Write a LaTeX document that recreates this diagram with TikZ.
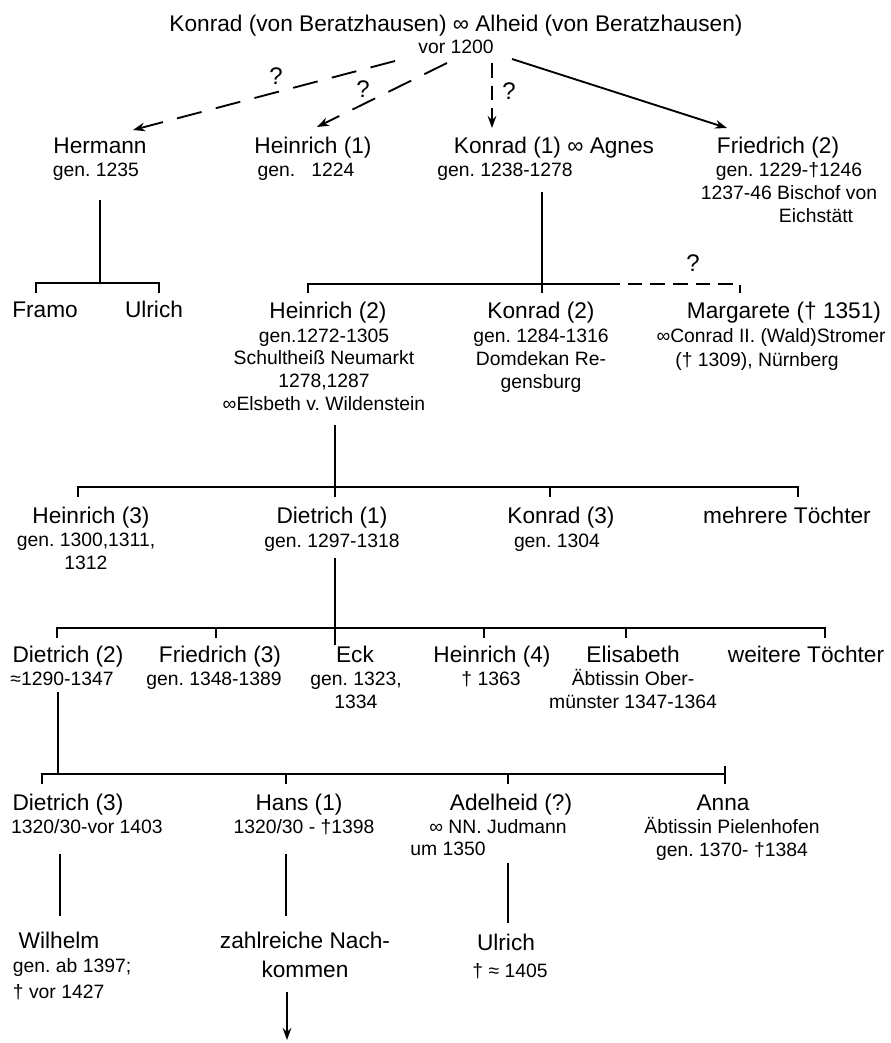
\documentclass[tikz,border=0pt]{standalone}
\usepackage{fontspec}
\setmainfont{Liberation Sans}
\usetikzlibrary{arrows.meta}
\newcommand\namefont{\fontsize{17}{21.5}\selectfont}
\newcommand\infofont{\fontsize{14.5}{17}\selectfont}
\newcommand\qfont{\fontsize{18}{20}\selectfont}
\frenchspacing

\begin{document}
\begin{tikzpicture}[x=0.75pt,y=-0.75pt,line width=1.4pt,
  every node/.style={inner sep=0pt},
  pname/.style={font=\namefont,anchor=base,align=center},
  pinfo/.style={font=\infofont,anchor=base,align=center},
  qmark/.style={font=\qfont},
  doubtful/.style={dash pattern=on 19pt off 11pt},
  doubtbar/.style={dash pattern=on 11pt off 6pt},
  tip/.style={-{Stealth[length=9pt,width=6.5pt]}}]
	%%%%% START %%%%%
	\useasboundingbox (0,0) rectangle (891,1043);

	% parents
	\node[pname] (top) at (456,31) {Konrad (von Beratzhausen) ∞ Alheid (von Beratzhausen)};
	\node[pinfo] (topI) at (456,53) {vor 1200};

	% first generation (multi-line texts sit on their last line)
	\node[pname] (hermann) at (100,153) {Hermann};
	\node[pinfo] (hermannI) at (96,176) {gen. 1235};
	\node[pname] (heinrichA) at (313,153) {Heinrich (1)};
	\node[pinfo] (heinrichAI) at (306,176) {gen.\ \ \ 1224};
	\node[pname] (konradA) at (554,153) {Konrad (1) ∞ Agnes};
	\node[pinfo] (konradAI) at (505,176) {gen. 1238-1278};
	\node[pname] (friedrichA) at (778,153) {Friedrich (2)};
	\node[pinfo] (friedrichAI) at (789,199) {gen. 1229-†1246\\1237-46 Bischof von};
	\node[pinfo] (eichstaett) at (816,222) {Eichstätt};

	\coordinate (fromA) at (395,61);  \coordinate (toHermann) at (133,130);
	\coordinate (fromB) at (447,63);  \coordinate (toHeinrichA) at (317,127);
	\coordinate (fromC) at (492,63);  \coordinate (toKonradA) at (492,128);
	\coordinate (fromD) at (512,59);  \coordinate (toFriedrichA) at (727,128);
	\draw[tip,doubtful] (fromA) -- (toHermann);
	\draw[tip,doubtful] (fromB) -- (toHeinrichA);
	\draw[tip,doubtbar] (fromC) -- (toKonradA);
	\draw[tip] (fromD) -- (toFriedrichA);
	\node[qmark] (q1) at (276,76) {?};
	\node[qmark] (q2) at (363,89) {?};
	\node[qmark] (q3) at (509,91) {?};

	% children of Hermann
	\draw (100,200) -- (100,283);
	\draw (36,293) -- (36,283) -- (159,283) -- (159,293);
	\node[pname] (framo) at (45,317) {Framo};
	\node[pname] (ulrichA) at (154,317) {Ulrich};

	% children of Konrad (1)
	\draw (542,192) -- (542,293);
	\draw (308,293) -- (308,284) -- (605,284);
	\draw[doubtbar] (605,284) -- (740,284) -- (740,293);
	\node[qmark] (q4) at (693,263) {?};
	\node[pname] (heinrichB) at (328,318) {Heinrich (2)};
	\node[pinfo] (heinrichBI) at (324,410) {gen.1272-1305\\Schultheiß Neumarkt\\1278,1287\\∞Elsbeth v. Wildenstein};
	\node[pname] (konradB) at (541,318) {Konrad (2)};
	\node[pinfo] (konradBI) at (541,388) {gen. 1284-1316\\Domdekan Re-\\gensburg};
	\node[pname] (margarete) at (784,318) {Margarete († 1351)};
	\node[pinfo] (margareteI) at (771,342) {∞Conrad II. (Wald)Stromer};
	\node[pinfo] (margareteJ) at (757,366) {(† 1309), Nürnberg};

	% children of Heinrich (2)
	\draw (335,425) -- (335,497);
	\draw (78,497) -- (78,487) -- (798,487) -- (798,497);
	\draw (550,487) -- (550,497);
	\node[pname] (heinrichC) at (91,523) {Heinrich (3)};
	\node[pinfo] (heinrichCI) at (86,569) {gen. 1300,1311,\\1312};
	\node[pname] (dietrichA) at (332,523) {Dietrich (1)};
	\node[pinfo] (dietrichAI) at (332,547) {gen. 1297-1318};
	\node[pname] (konradC) at (561,523) {Konrad (3)};
	\node[pinfo] (konradCI) at (557,547) {gen. 1304};
	\node[pname] (toechterA) at (787,523) {mehrere Töchter};

	% children of Dietrich (1)
	\draw (335,558) -- (335,645);
	\draw (57,638) -- (57,628) -- (825,628) -- (825,638);
	\foreach \tx in {216,484,626} \draw (\tx,628) -- (\tx,638);
	\node[pname] (dietrichB) at (68,662) {Dietrich (2)};
	\node[pinfo] (dietrichBI) at (62,685) {≈1290-1347};
	\node[pname] (friedrichB) at (220,662) {Friedrich (3)};
	\node[pinfo] (friedrichBI) at (214,685) {gen. 1348-1389};
	\node[pname] (eck) at (355,662) {Eck};
	\node[pinfo] (eckI) at (356,708) {gen. 1323,\\1334};
	\node[pname] (heinrichD) at (492,662) {Heinrich (4)};
	\node[pinfo] (heinrichDI) at (491,685) {† 1363};
	\node[pname] (elisabeth) at (633,662) {Elisabeth};
	\node[pinfo] (elisabethI) at (633,708) {Äbtissin Ober-\\münster 1347-1364};
	\node[pname] (toechterB) at (806,662) {weitere Töchter};

	% children of Dietrich (2)
	\draw (58,692) -- (58,774);
	\draw (42,784) -- (42,774) -- (725,774);
	\draw (725,766) -- (725,784);
	\foreach \tx in {286,508} \draw (\tx,774) -- (\tx,784);
	\node[pname] (dietrichC) at (68,810) {Dietrich (3)};
	\node[pinfo] (dietrichCI) at (87,833) {1320/30-vor 1403};
	\node[pname] (hans) at (299,810) {Hans (1)};
	\node[pinfo] (hansI) at (304,833) {1320/30 - †1398};
	\node[pname] (adelheid) at (511,810) {Adelheid (?)};
	\node[pinfo] (adelheidI) at (498,833) {∞ NN. Judmann};
	\node[pinfo] (adelheidJ) at (448,855) {um 1350};
	\node[pname] (anna) at (723,810) {Anna};
	\node[pinfo] (annaI) at (732,856) {Äbtissin Pielenhofen\\gen. 1370- †1384};

	% last generation
	\draw (60,854) -- (60,916);
	\draw (286,854) -- (286,916);
	\draw (508,863) -- (508,923);
	\node[pname] (wilhelm) at (59,948) {Wilhelm};
	\node[pinfo,anchor=base west,align=left] (wilhelmI) at (12,998) {gen. ab 1397;\\[2pt]† vor 1427};
	\node[pname] (nachkommen) at (305,977) {zahlreiche Nach-\\kommen};
	\node[pname] (ulrichB) at (506,950) {Ulrich};
	\node[pinfo] (ulrichBI) at (510,977) {† ≈ 1405};
	\coordinate (moreS) at (287,992);
	\coordinate (moreE) at (287,1040);
	\draw[tip] (moreS) -- (moreE);
	%%%%% END %%%%%
\end{tikzpicture}
\end{document}
